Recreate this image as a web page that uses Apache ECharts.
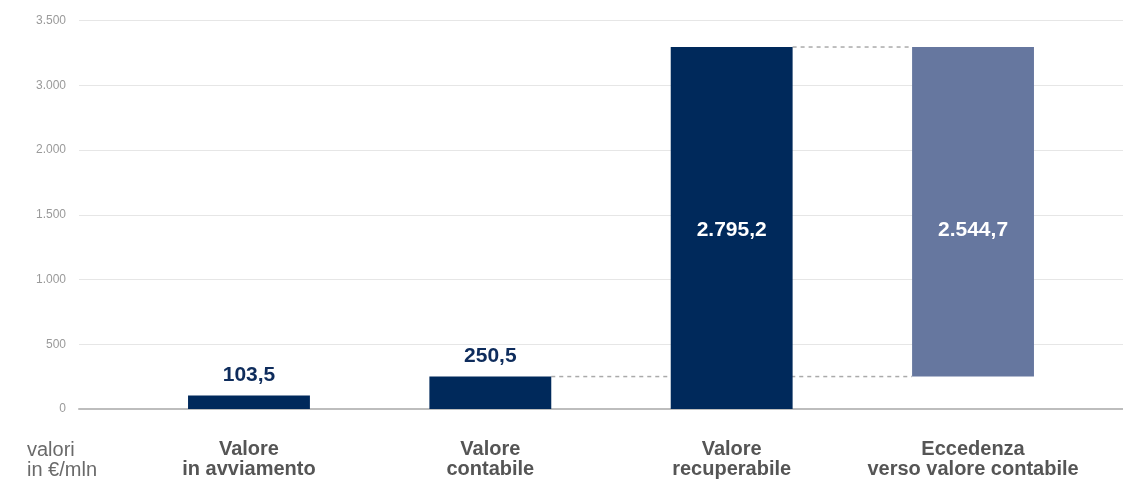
<!DOCTYPE html>
<html>
<head>
<meta charset="utf-8">
<style>
  html, body { margin: 0; padding: 0; background: #ffffff; }
  #chart { width: 1123px; height: 483px; }
</style>
<script src="https://cdn.jsdelivr.net/npm/echarts@6/dist/echarts.min.js"></script>
</head>
<body>
<div id="chart"></div>
<script>
// ---- data ----
var categories = ['Valore\nin avviamento', 'Valore\ncontabile', 'Valore\nrecuperabile', 'Eccedenza\nverso valore contabile'];
var baseValues = [0, 0, 0, 250.5];
var barValues = [103.5, 250.5, 2795.2, 2544.7];
var barLabels = ['103,5', '250,5', '2.795,2', '2.544,7'];
var yTickLabels = ['0', '500', '1.000', '1.500', '2.000', '3.000', '3.500'];
var connectors = [[1, 3, 250.5], [2, 3, 2795.2]];
var unitText = 'valori\nin €/mln';

var NAVY = '#00295b';
var LIGHT = '#66779f';
var FONT = "'Liberation Sans', Arial, Helvetica, sans-serif";
var BAR_FRAC = 0.505;

var chart = echarts.init(document.getElementById('chart'));

var barData = barValues.map(function (v, i) {
  var inside = i >= 2;
  return {
    value: v,
    itemStyle: { color: i === 3 ? LIGHT : NAVY },
    label: inside ? {
      show: true, position: 'inside', color: '#ffffff',
      fontSize: 21, fontWeight: 'bold', fontFamily: FONT,
      offset: i === 3 ? [0, 18] : [0, 2],
      formatter: barLabels[i]
    } : {
      show: true, position: 'top', distance: 10, color: '#0e2c5c',
      fontSize: 21, fontWeight: 'bold', fontFamily: FONT,
      formatter: barLabels[i]
    }
  };
});

var option = {
  animation: false,
  backgroundColor: '#ffffff',
  grid: [
    { left: 79, right: 0, top: 20.5, bottom: 74 },
    { left: 128.3, right: 29.3, top: 20.5, bottom: 74 }
  ],
  xAxis: [
    {
      gridIndex: 0, type: 'value', min: 0, max: 1,
      axisLine: { show: true, lineStyle: { color: '#bdbdbd', width: 2 } },
      axisTick: { show: false }, axisLabel: { show: false }, splitLine: { show: false }
    },
    {
      gridIndex: 1, type: 'category', data: categories,
      axisLine: { show: false }, axisTick: { show: false },
      axisLabel: {
        margin: 30, color: '#555555', fontSize: 20, fontWeight: 'bold',
        lineHeight: 20, fontFamily: FONT, interval: 0
      }
    }
  ],
  yAxis: [
    {
      gridIndex: 0, type: 'value', min: 0, max: 3000, interval: 500,
      axisLine: { show: false }, axisTick: { show: false },
      axisLabel: {
        margin: 13, color: '#9a9a9a', fontSize: 12, fontFamily: FONT,
        formatter: function (v) { return yTickLabels[Math.round(v / 500)]; }
      },
      splitLine: { lineStyle: { color: '#e6e6e6', width: 1 } }
    },
    {
      gridIndex: 1, type: 'value', min: 0, max: 3000, interval: 500, show: false,
      splitLine: { show: false }
    }
  ],
  graphic: [
    {
      type: 'text', left: 27, top: 440,
      style: { text: unitText, fill: '#6a6a6a', font: '20px ' + FONT, lineHeight: 20 }
    }
  ],
  series: [
    {
      type: 'custom', xAxisIndex: 1, yAxisIndex: 1, z: 1,
      data: connectors,
      renderItem: function (params, api) {
        var half = api.size([1, 0])[0] * BAR_FRAC / 2;
        var p0 = api.coord([api.value(0), api.value(2)]);
        var p1 = api.coord([api.value(1), api.value(2)]);
        return {
          type: 'line',
          shape: { x1: p0[0] + half, y1: p0[1], x2: p1[0] - half, y2: p1[1] },
          style: { stroke: '#aaaaaa', lineWidth: 1.5, lineDash: [4, 4] }
        };
      }
    },
    {
      type: 'bar', xAxisIndex: 1, yAxisIndex: 1, stack: 'w',
      barWidth: (BAR_FRAC * 100) + '%',
      itemStyle: { color: 'transparent' },
      data: baseValues, silent: true
    },
    {
      type: 'bar', xAxisIndex: 1, yAxisIndex: 1, stack: 'w',
      barWidth: (BAR_FRAC * 100) + '%',
      data: barData, z: 3
    }
  ]
};

chart.setOption(option);
</script>
</body>
</html>
